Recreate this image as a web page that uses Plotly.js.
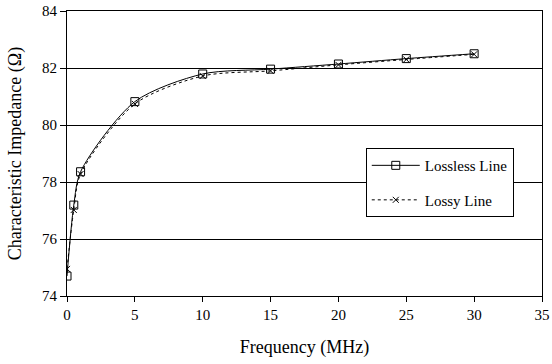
<!DOCTYPE html>
<html><head><meta charset="utf-8">
<script src="https://cdn.plot.ly/plotly-3.0.1.min.js"></script>
<style>body{margin:0;background:#fff}#c{width:552px;height:364px}</style>
</head><body><div id="c"></div>
<script>
const freq = [0, 0.5, 1, 5, 10, 15, 20, 25, 30];
const lossless = [74.70, 77.19, 78.36, 80.82, 81.79, 81.96, 82.14, 82.33, 82.50];
const lossy = [74.95, 77.02, 78.28, 80.74, 81.72, 81.90, 82.11, 82.30, 82.48];
const xTicks = [0, 5, 10, 15, 20, 25, 30, 35];
const yTicks = [74, 76, 78, 80, 82, 84];
const fam = 'Liberation Serif, Times New Roman, serif';
const tickFont = {family: fam, size: 15, color: '#000'};
const titleFont = {family: fam, size: 18, color: '#000'};
const data = [
  {x: freq, y: lossless, name: 'Lossless Line', mode: 'lines+markers', legendgroup: 'a',
   line: {color: '#000', width: 1, shape: 'spline', smoothing: 0.8},
   marker: {symbol: 'square-open', size: 8, color: '#000', line: {width: 1}}},
  {x: freq, y: lossy, name: 'Lossy Line', mode: 'lines+markers', legendgroup: 'b',
   line: {color: '#000', width: 1, dash: 'dot', shape: 'spline', smoothing: 0.8},
   marker: {symbol: 'x-thin-open', size: 6, color: '#000', line: {width: 1, color: '#000'}}}
];
const layout = {
  width: 552, height: 364,
  margin: {l: 67, r: 10, t: 11, b: 68},
  paper_bgcolor: '#fff', plot_bgcolor: '#fff',
  font: tickFont,
  showlegend: true,
  legend: {x: 0.629, y: 0.519, xanchor: 'left', yanchor: 'top',
    bordercolor: '#000', borderwidth: 1, bgcolor: '#fff',
    traceorder: 'grouped', tracegroupgap: 12, font: {family: fam, size: 15, color: '#000'},
    itemwidth: 48},
  xaxis: {range: [0, 35], tickvals: xTicks, ticktext: xTicks.map(String),
    showgrid: false, zeroline: false, showline: true, linecolor: '#000', linewidth: 1,
    mirror: true, ticks: 'outside', ticklen: 5, tickcolor: '#000', tickfont: tickFont,
    title: {text: 'Frequency (MHz)', font: titleFont, standoff: 18}},
  yaxis: {range: [74, 84], tickvals: yTicks, ticktext: yTicks.map(String),
    showgrid: true, gridcolor: '#000', gridwidth: 1, zeroline: false,
    showline: true, linecolor: '#000', linewidth: 1, mirror: true,
    ticks: 'outside', ticklen: 6, tickcolor: '#000', tickfont: tickFont,
    title: {text: 'Characteristic Impedance (Ω)', font: titleFont, standoff: 15}}
};
Plotly.newPlot('c', data, layout, {staticPlot: true, displayModeBar: false});
</script></body></html>
